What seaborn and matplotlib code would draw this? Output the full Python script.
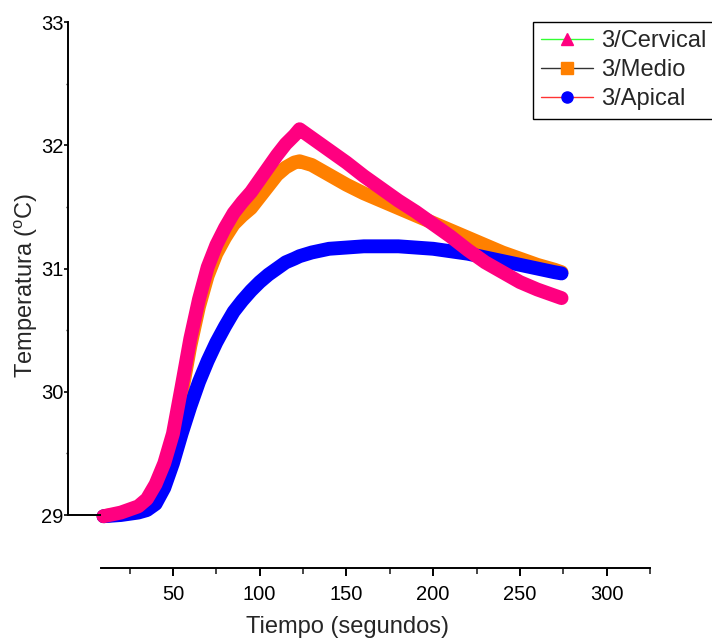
import matplotlib
matplotlib.use("Agg")
import matplotlib.pyplot as plt
import seaborn as sns
import pandas as pd
from matplotlib.lines import Line2D

sns.set_style("white")
plt.rcParams['font.family'] = ['Liberation Sans', 'DejaVu Sans']
plt.rcParams['mathtext.fontset'] = 'custom'
plt.rcParams['mathtext.rm'] = 'Liberation Sans'

# ---- data ----
tiempo = [10, 20, 30, 35, 40, 45, 50, 55, 60, 65, 70, 75, 80, 85, 90, 95, 100,
          105, 110, 115, 120, 123, 130, 140, 150, 160, 170, 180, 190, 200,
          210, 220, 230, 240, 250, 260, 270, 274]
cervical = [28.99, 29.02, 29.07, 29.13, 29.25, 29.42, 29.66, 30.04, 30.43, 30.75,
            31.01, 31.19, 31.33, 31.45, 31.54, 31.62, 31.72, 31.82, 31.92, 32.01,
            32.08, 32.13, 32.06, 31.96, 31.86, 31.75, 31.65, 31.55, 31.46, 31.36,
            31.26, 31.15, 31.05, 30.97, 30.89, 30.83, 30.78, 30.76]
medio = [28.99, 29.01, 29.05, 29.11, 29.22, 29.38, 29.61, 29.98, 30.37, 30.69,
         30.94, 31.12, 31.25, 31.36, 31.43, 31.49, 31.58, 31.67, 31.76, 31.82,
         31.86, 31.87, 31.84, 31.76, 31.68, 31.61, 31.55, 31.49, 31.43, 31.37,
         31.31, 31.25, 31.19, 31.13, 31.08, 31.03, 30.99, 30.97]
apical = [28.99, 29.00, 29.02, 29.04, 29.09, 29.22, 29.42, 29.66, 29.88, 30.08,
          30.25, 30.40, 30.53, 30.65, 30.74, 30.82, 30.89, 30.95, 31.00, 31.05,
          31.08, 31.10, 31.13, 31.16, 31.17, 31.18, 31.18, 31.18, 31.17, 31.16,
          31.14, 31.12, 31.09, 31.06, 31.03, 31.00, 30.97, 30.96]

series_names = ['3/Cervical', '3/Medio', '3/Apical']
series_vals = [cervical, medio, apical]
colors = {'3/Cervical': '#FF0080', '3/Medio': '#FF8000', '3/Apical': '#0000FF'}

df = pd.concat([pd.DataFrame({'t': tiempo, 'temp': v, 'serie': n})
                for n, v in zip(series_names, series_vals)], ignore_index=True)

fig = plt.figure(figsize=(7.12, 6.39), dpi=100)
ax = fig.add_axes([68/712, 1-568/639, (650-68)/712, (568-22)/639])

sns.lineplot(data=df, x='t', y='temp', hue='serie',
             hue_order=['3/Medio', '3/Apical', '3/Cervical'],
             palette=colors, linewidth=10, legend=False, sort=False,
             solid_capstyle='round', solid_joinstyle='round', ax=ax)

x0, x1 = -10.5, 325
ax.set_xlim(x0, x1)
ax.set_ylim(28.57, 33.0)

for s in ['top', 'right']:
    ax.spines[s].set_visible(False)
for s in ['left', 'bottom']:
    ax.spines[s].set_color('black')
    ax.spines[s].set_linewidth(1.4)
ax.spines['left'].set_bounds(29, 33)
ax.spines['bottom'].set_bounds(8.5, 325)
ax.plot([x0, 8.5], [29, 29], color='black', lw=1.4, clip_on=False,
        solid_capstyle='butt')

ax.set_xticks([50, 100, 150, 200, 250, 300])
ax.set_xticks([25, 75, 125, 175, 225, 275, 325], minor=True)
ax.set_yticks([29, 30, 31, 32, 33])
ax.set_yticks([29.5, 30.5, 31.5, 32.5], minor=True)

ax.tick_params(axis='x', which='major', direction='out', length=6, width=1.4,
               labelsize=14.5, pad=6, bottom=True, colors='black')
ax.tick_params(axis='x', which='minor', direction='out', length=4, width=1.2,
               bottom=True)
ax.tick_params(axis='y', which='major', direction='out', length=3, width=1.2,
               labelsize=14.5, pad=0, left=True, colors='black')
ax.tick_params(axis='y', which='minor', direction='out', length=1.5, width=1.0,
               left=True)

ax.set_xlabel('Tiempo (segundos)', fontsize=17)
ax.set_ylabel('Temperatura ($^{\\rm o}$C)', fontsize=17)
ax.xaxis.set_label_coords((348-68)/582, (568-616)/546)
ax.yaxis.set_label_coords((40-68)/582, (568-285)/546)

handles = [
    Line2D([], [], color='#33FF33', lw=1, marker='^', markersize=9,
           markerfacecolor='#FF0080', markeredgecolor='#FF0080'),
    Line2D([], [], color='#333333', lw=1, marker='s', markersize=8,
           markerfacecolor='#FF8000', markeredgecolor='#FF8000'),
    Line2D([], [], color='#FF3333', lw=1, marker='o', markersize=8,
           markerfacecolor='#0000FF', markeredgecolor='#0000FF'),
]
leg = fig.legend(handles, series_names, loc='upper left',
                 bbox_to_anchor=(533/712, 1-22/639), borderaxespad=0,
                 fontsize=17, frameon=True, fancybox=False, framealpha=1,
                 edgecolor='black', handlelength=2.2, handletextpad=0.35,
                 labelspacing=0.3, borderpad=0.35)
leg.get_frame().set_linewidth(1.0)

fig.savefig('out.png', dpi=100)
